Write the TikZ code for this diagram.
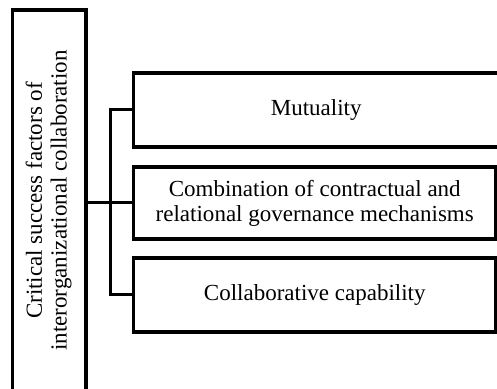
\documentclass[tikz,border=0pt]{standalone}
\usepackage{fontspec}
\setmainfont{Liberation Serif}
\usepackage{graphicx}

\tikzset{
	factor/.style={draw, line width=1.8pt, inner sep=0pt, align=center, font=\fontsize{11.5}{12.5}\selectfont},
	link/.style={line width=1.5pt},
}

\begin{document}
\begin{tikzpicture}[x=0.5pt, y=-0.5pt]
		\useasboundingbox (0,0) rectangle (497,389);
		\clip (0,0) rectangle (497,389);

		\node[factor, minimum width=36.75pt, minimum height=190.5pt] (csf) at (49.25,200.5)
			{\rotatebox{90}{\begin{tabular}{@{}c@{}}Critical success factors of\\interorganizational collaboration\end{tabular}}};

		\node[factor, minimum width=182.75pt, minimum height=37pt] (mutuality) at (316.25,110) {Mutuality};
		\node[factor, minimum width=181.25pt, minimum height=36pt] (governance) at (314.75,203)
			{Combination of contractual and\\relational governance mechanisms};
		\node[factor, minimum width=181.25pt, minimum height=37pt] (capability) at (314.75,295) {Collaborative capability};

		\coordinate (bus) at (110,203);
		\draw[link] (csf.east |- governance.west) -- (governance.west);
		\draw[link] (mutuality.west) -| (bus) |- (capability.west);
	\end{tikzpicture}
\end{document}
